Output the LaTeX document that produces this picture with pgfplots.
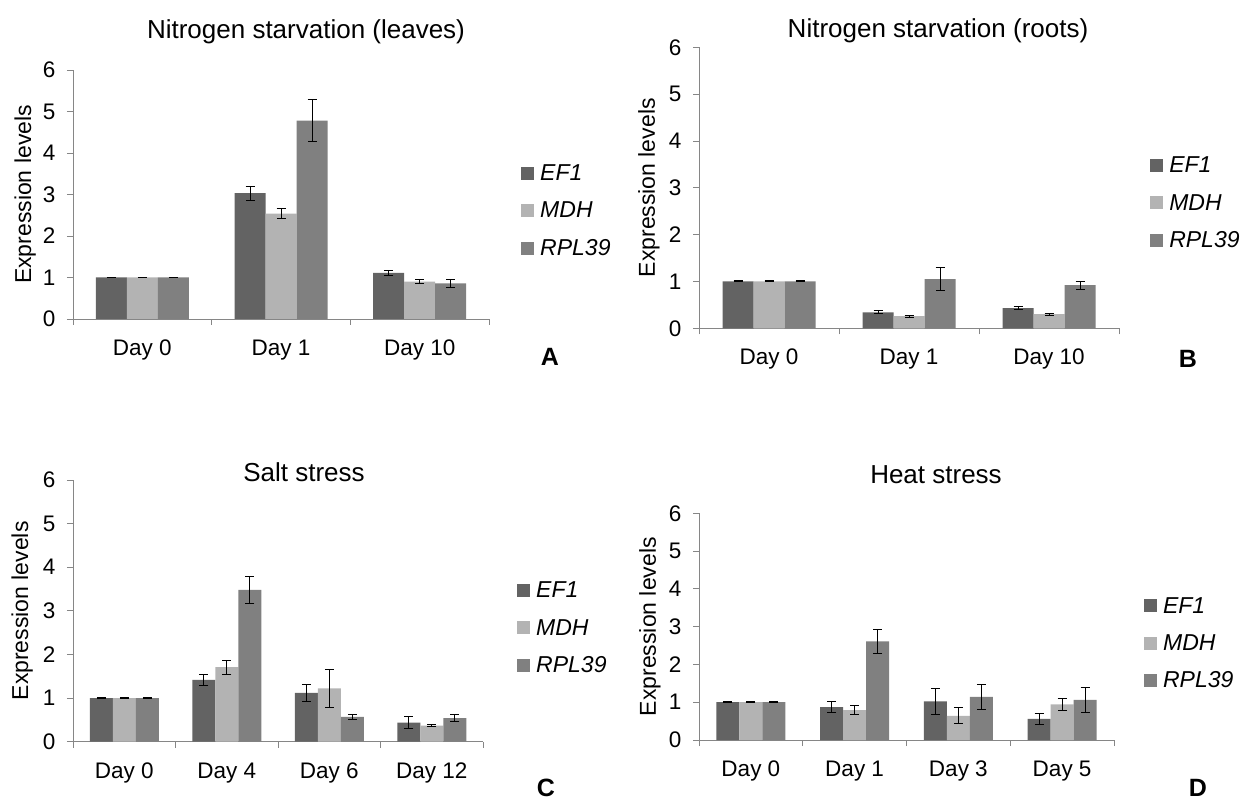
\documentclass[border=0pt]{standalone}
\usepackage{fontspec}
\setmainfont{Liberation Sans}
\usepackage{pgfplots}
\pgfplotsset{compat=1.18}

\definecolor{efone}{RGB}{99,99,99}
\definecolor{mdh}{RGB}{179,179,179}
\definecolor{rpl}{RGB}{128,128,128}
\definecolor{axisgray}{RGB}{134,134,134}

\newcommand{\ticksize}{\fontsize{22.5}{26}\selectfont}

\pgfplotsset{
  panel/.style={
    scale only axis,
    anchor=south west,
    ybar=0pt,
    ymin=0, ymax=6, ytick={0,...,6},
    xmin=-0.5,
    axis x line*=bottom, axis y line*=left,
    axis line style={draw=axisgray, line width=0.8pt, -},
    tick align=outside,
    major tick length=6pt,
    tick style={draw=axisgray, line width=0.8pt},
    x tick label as interval,
    tick label style={font=\ticksize},
    xticklabel style={anchor=north, text height=16pt, text depth=5pt, yshift=-11pt},
    yticklabel style={anchor=east, xshift=-8pt},
    /pgf/number format/assume math mode=true,
    ylabel={Expression levels},
    legend style={draw=none, fill=none, inner sep=0pt,
      font=\fontsize{23}{27}\selectfont\itshape,
      row sep=16pt, cells={anchor=west},
      /tikz/every odd column/.append style={column sep=4pt}},
    error bars/y dir=both,
    error bars/y explicit,
    error bars/error bar style={black, line width=1pt},
    error bars/error mark options={rotate=90, black, mark size=4.5pt, line width=1pt},
  },
  ylabx/.style={every axis y label/.style={at={(axis description cs:#1,0.5)},
    rotate=90, anchor=center, font=\fontsize{23}{27}\selectfont}},
  sq/.style={fill=#1, draw=none,
    legend image code/.code={\fill[#1] (0pt,-6.5pt) rectangle (13pt,6.5pt);}},
}

\begin{document}
\begin{tikzpicture}
\useasboundingbox (0,0) rectangle (1241pt,800pt);

% A: nitrogen starvation, leaves
\begin{axis}[panel, at={(73pt,481pt)}, width=416pt, height=249pt,
  bar width=31pt, xmax=2.5, xtick={-0.5,0.5,1.5,2.5},
  xticklabels={Day 0, Day 1, Day 10}, ylabx=-0.115,
  legend style={at={(1.077,0.434)}, anchor=west}]
\addplot[sq=efone] coordinates {(0,1) +- (0,0.01) (1,3.03) +- (0,0.17) (2,1.11) +- (0,0.06)};
\addplot[sq=mdh] coordinates {(0,1) +- (0,0.01) (1,2.54) +- (0,0.13) (2,0.90) +- (0,0.05)};
\addplot[sq=rpl] coordinates {(0,1) +- (0,0.01) (1,4.78) +- (0,0.51) (2,0.86) +- (0,0.09)};
\legend{EF1, MDH, RPL39}
\end{axis}

% B: nitrogen starvation, roots
\begin{axis}[panel, at={(699pt,471.7pt)}, width=420pt, height=281pt,
  bar width=31pt, xmax=2.5, xtick={-0.5,0.5,1.5,2.5},
  xticklabels={Day 0, Day 1, Day 10}, ylabx=-0.119,
  legend style={at={(1.074,0.446)}, anchor=west}]
\addplot[sq=efone] coordinates {(0,1) +- (0,0.01) (1,0.34) +- (0,0.03) (2,0.43) +- (0,0.03)};
\addplot[sq=mdh] coordinates {(0,1) +- (0,0.01) (1,0.26) +- (0,0.02) (2,0.30) +- (0,0.02)};
\addplot[sq=rpl] coordinates {(0,1) +- (0,0.01) (1,1.05) +- (0,0.24) (2,0.92) +- (0,0.085)};
\legend{EF1, MDH, RPL39}
\end{axis}

% C: salt stress
\begin{axis}[panel, at={(73pt,58.3pt)}, width=410pt, height=261.7pt,
  bar width=23pt, xmax=3.5, xtick={-0.5,0.5,1.5,2.5,3.5},
  xticklabels={Day 0, Day 4, Day 6, Day 12}, ylabx=-0.124,
  legend style={at={(1.083,0.4345)}, anchor=west}]
\addplot[sq=efone] coordinates {(0,1) +- (0,0.01) (1,1.42) +- (0,0.13) (2,1.12) +- (0,0.20) (3,0.44) +- (0,0.13)};
\addplot[sq=mdh] coordinates {(0,1) +- (0,0.01) (1,1.71) +- (0,0.16) (2,1.22) +- (0,0.44) (3,0.37) +- (0,0.02)};
\addplot[sq=rpl] coordinates {(0,1) +- (0,0.01) (1,3.48) +- (0,0.31) (2,0.57) +- (0,0.065) (3,0.54) +- (0,0.075)};
\legend{EF1, MDH, RPL39}
\end{axis}

% D: heat stress
\begin{axis}[panel, at={(699pt,60pt)}, width=415pt, height=226.7pt,
  bar width=23pt, xmax=3.5, xtick={-0.5,0.5,1.5,2.5,3.5},
  xticklabels={Day 0, Day 1, Day 3, Day 5}, ylabx=-0.118,
  legend style={at={(1.072,0.4266)}, anchor=west}]
\addplot[sq=efone] coordinates {(0,1) +- (0,0.01) (1,0.87) +- (0,0.15) (2,1.02) +- (0,0.34) (3,0.56) +- (0,0.145)};
\addplot[sq=mdh] coordinates {(0,1) +- (0,0.01) (1,0.79) +- (0,0.12) (2,0.64) +- (0,0.21) (3,0.94) +- (0,0.17)};
\addplot[sq=rpl] coordinates {(0,1) +- (0,0.01) (1,2.61) +- (0,0.32) (2,1.14) +- (0,0.33) (3,1.06) +- (0,0.33)};
\legend{EF1, MDH, RPL39}
\end{axis}

% panel titles
\begin{scope}[every node/.style={font=\fontsize{26}{30}\selectfont, inner sep=0pt, anchor=base}]
\node at (306pt,761pt) {Nitrogen starvation (leaves)};
\node at (938pt,762pt) {Nitrogen starvation (roots)};
\node at (304pt,318pt) {Salt stress};
\node at (936pt,316pt) {Heat stress};
\end{scope}

% panel letters
\begin{scope}[every node/.style={font=\fontsize{25}{29}\selectfont\bfseries, inner sep=0pt, anchor=base}]
\node at (550pt,434pt) {A};
\node at (1188pt,432pt) {B};
\node at (546pt,4pt) {C};
\node at (1198pt,4pt) {D};
\end{scope}
\end{tikzpicture}
\end{document}
